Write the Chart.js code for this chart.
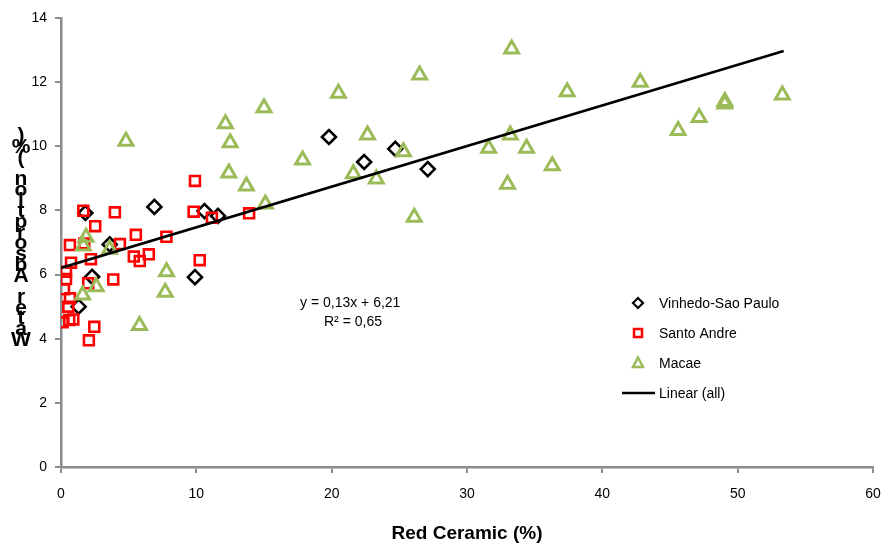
<!DOCTYPE html>
<html>
<head>
<meta charset="utf-8">
<script src="https://cdn.jsdelivr.net/npm/chart.js@4/dist/chart.umd.min.js"></script>
<style>
html,body{margin:0;padding:0;background:#fff;}
#wrap{width:884px;height:545px;position:relative;}
</style>
</head>
<body>
<div id="wrap"><canvas id="c" width="884" height="545"></canvas></div>
<script>
// ---- data ----
const vinhedoX = [1.8, 6.9, 10.6, 11.6, 3.6, 2.3, 1.3, 9.9, 19.8, 22.4, 24.7, 27.1];
const vinhedoY = [7.92, 8.11, 7.98, 7.83, 6.94, 5.93, 5.0, 5.92, 10.29, 9.51, 9.92, 9.29];

const santoX = [1.65, 3.98, 2.53, 0.66, 1.72, 4.35, 5.53, 7.79, 0.74, 2.21, 5.38, 5.82, 6.49, 10.25, 9.9, 9.8, 11.15, 0.37, 0.37, 0.22, 0.66, 0.54, 2.01, 3.86, 0.12, 0.91, 0.61, 2.46, 2.06, 13.9];
const santoY = [7.99, 7.94, 7.51, 6.92, 6.97, 6.95, 7.24, 7.18, 6.37, 6.48, 6.56, 6.42, 6.63, 6.45, 8.92, 7.96, 7.77, 6.09, 5.86, 5.54, 5.26, 5.0, 5.73, 5.85, 4.51, 4.6, 4.58, 4.37, 3.95, 7.91];

const macaeX = [12.4, 1.85, 1.65, 3.6, 7.8, 2.6, 1.6, 7.7, 5.8, 26.5, 20.5, 15.0, 12.15, 12.5, 22.65, 17.85, 13.7, 25.3, 21.6, 23.3, 15.1, 26.1, 33.3, 37.4, 42.8, 49.05, 49.05, 53.3, 47.15, 45.6, 33.2, 31.6, 34.4, 36.3, 33.0, 4.8];
const macaeY = [9.17, 7.16, 6.89, 6.79, 6.09, 5.62, 5.36, 5.45, 4.41, 12.22, 11.65, 11.2, 10.7, 10.11, 10.35, 9.57, 8.76, 9.83, 9.14, 8.98, 8.2, 7.79, 13.03, 11.7, 12.0, 11.4, 11.32, 11.6, 10.9, 10.49, 10.35, 9.94, 9.94, 9.39, 8.82, 10.16];

const trendX = [0, 53.4];
const trendY = [6.21, 12.97];

const seriesNames = ["Vinhedo-Sao Paulo", "Santo Andre", "Macae", "Linear (all)"];
const xTitle = "Red Ceramic (%)";
const yTitle = "Water Absorption (%)";
const equationLines = ["y = 0,13x + 6,21", "R\u00B2 = 0,65"];

const FONT = "'Liberation Sans', Arial, sans-serif";
const GREEN = "#9BBB59";
const RED = "#FF0000";
const BLACK = "#000000";
const AXIS = "#8C8C8C";

const pts = (xs, ys) => xs.map((x, i) => ({x: x, y: ys[i]}));

const overlay = {
  id: 'overlay',
  afterDraw(chart) {
    const ctx = chart.ctx;
    ctx.save();
    // stacked y-axis title (characters upright, bottom to top)
    ctx.fillStyle = '#000';
    ctx.font = "bold 21px " + FONT;
    ctx.textAlign = 'center';
    ctx.textBaseline = 'middle';
    const chars = yTitle.split('');
    chars.forEach((ch, i) => {
      ctx.fillText(ch, 21, 340 - i * 10.7);
    });
    // equation
    ctx.font = "14px " + FONT;
    ctx.textAlign = 'left';
    ctx.fillText(equationLines[0], 300, 303);
    ctx.fillText(equationLines[1], 324, 322);
    // legend
    const lx = 638, tx = 659, rows = [303, 333, 363, 393];
    ctx.font = "14px " + FONT;
    ctx.lineWidth = 2.2;
    ctx.strokeStyle = BLACK;
    ctx.beginPath();
    ctx.moveTo(lx, rows[0] - 5); ctx.lineTo(lx + 5, rows[0]); ctx.lineTo(lx, rows[0] + 5); ctx.lineTo(lx - 5, rows[0]); ctx.closePath();
    ctx.stroke();
    ctx.strokeStyle = RED;
    ctx.lineWidth = 2.5;
    ctx.strokeRect(lx - 4, rows[1] - 4, 8, 8);
    ctx.strokeStyle = GREEN;
    ctx.lineWidth = 2.5;
    ctx.beginPath();
    ctx.moveTo(lx, rows[2] - 5.5); ctx.lineTo(lx + 5, rows[2] + 4); ctx.lineTo(lx - 5, rows[2] + 4); ctx.closePath();
    ctx.stroke();
    ctx.strokeStyle = BLACK;
    ctx.lineWidth = 2.5;
    ctx.beginPath(); ctx.moveTo(622, rows[3]); ctx.lineTo(655, rows[3]); ctx.stroke();
    ctx.fillStyle = '#000';
    seriesNames.forEach((n, i) => ctx.fillText(n, tx, rows[i] + 1));
    ctx.restore();
  }
};

new Chart(document.getElementById('c'), {
  type: 'scatter',
  data: {
    datasets: [
      {
        label: seriesNames[3], type: 'line', data: pts(trendX, trendY),
        borderColor: BLACK, borderWidth: 2.7, pointRadius: 0, fill: false, order: 0
      },
      {
        label: seriesNames[0], data: pts(vinhedoX, vinhedoY),
        pointStyle: 'rectRot', pointRadius: 7, borderColor: BLACK, borderWidth: 2.6,
        backgroundColor: 'rgba(0,0,0,0)', order: 3
      },
      {
        label: seriesNames[1], data: pts(santoX, santoY),
        pointStyle: 'rect', pointRadius: 7, borderColor: RED, borderWidth: 2.6,
        backgroundColor: 'rgba(0,0,0,0)', order: 2
      },
      {
        label: seriesNames[2], data: pts(macaeX, macaeY),
        pointStyle: 'triangle', pointRadius: 8, borderColor: GREEN, borderWidth: 3,
        backgroundColor: 'rgba(0,0,0,0)', order: 1
      }
    ]
  },
  options: {
    responsive: false,
    animation: false,
    events: [],
    layout: { padding: { left: 0, right: 5, top: 18, bottom: 0 } },
    plugins: {
      legend: { display: false },
      tooltip: { enabled: false }
    },
    scales: {
      x: {
        type: 'linear', min: 0, max: 60,
        ticks: { stepSize: 10, color: '#000', font: { family: FONT, size: 14 }, padding: 13, maxRotation: 0 },
        grid: { drawOnChartArea: false, drawTicks: true, tickLength: 6, color: AXIS, lineWidth: 2 },
        border: { color: AXIS, width: 2.5 },
        title: { display: true, text: xTitle, color: '#000', font: { family: FONT, size: 19, weight: 'bold' }, padding: { top: 6, bottom: 0 } },
        afterFit(s) { s.height = 78; s.paddingRight = 0; s.paddingLeft = 0; }
      },
      y: {
        type: 'linear', min: 0, max: 14,
        ticks: { stepSize: 2, color: '#000', font: { family: FONT, size: 14 }, padding: 8 },
        grid: { drawOnChartArea: false, drawTicks: true, tickLength: 6, color: AXIS, lineWidth: 2 },
        border: { color: AXIS, width: 2.5 },
        afterFit(s) { s.width = 61; s.paddingTop = 0; s.paddingBottom = 0; }
      }
    }
  },
  plugins: [overlay]
});
</script>
</body>
</html>
